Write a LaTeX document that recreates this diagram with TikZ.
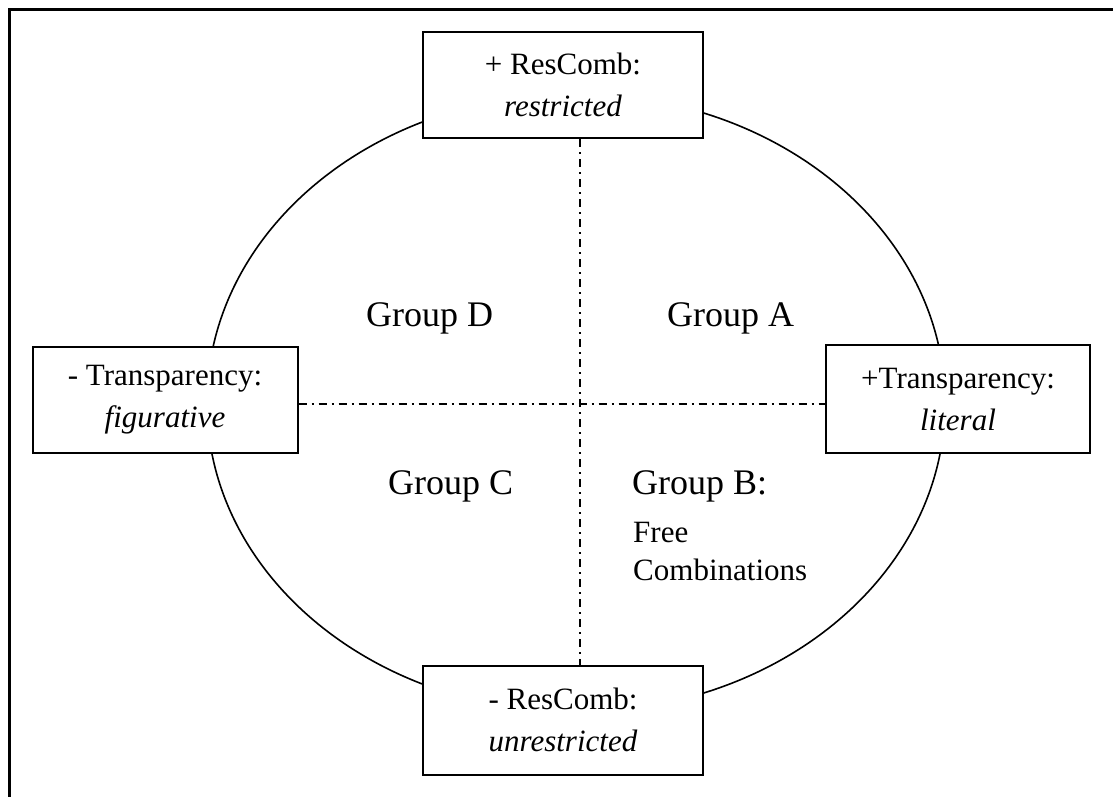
\documentclass[tikz,border=0pt]{standalone}
\usepackage{fontspec}
\setmainfont{Liberation Serif}
\usetikzlibrary{calc}
\tikzset{
  pole/.style= {draw, fill=white, line width=2pt, align=center, inner sep=0pt,
                font=\fontsize{31}{42}\selectfont},
  group/.style= {anchor=base west, inner sep=0pt, font=\fontsize{36}{40}\selectfont},
  axis/.style= {line width=2pt, dash pattern=on 8pt off 5pt on 2pt off 5pt},
}

\begin{document}
\begin{tikzpicture}[x=1pt, y=-1pt]
  \useasboundingbox (0,0) rectangle (1113,796) ;
  \draw [line width=3pt] (1120,9) -- (9,9) -- (9,800) ;

  \draw [line width=1.6pt] (576,403) ellipse [x radius=369, y radius=309] ;
  \coordinate (c) at (580,404) ;

  \node [pole, minimum width=280pt, minimum height=106pt] (top) at (563,85)
    {+ ResComb:\\\textit{restricted}} ;
  \node [pole, minimum width=280pt, minimum height=109pt] (bot) at (563,720)
    {- ResComb:\\\textit{unrestricted}} ;
  \node [pole, minimum width=265pt, minimum height=106pt] (neg) at (165,400)
    {- Transparency:\\\textit{figurative}} ;
  \node [pole, minimum width=264pt, minimum height=108pt] (pos) at (958,399)
    {+Transparency:\\\textit{literal}} ;

  \draw [axis] (top.south -| c) -- (bot.north -| c) ;
  \draw [axis] (neg.east |- c) -- (pos.west |- c) ;

  \node [group] (gd) at (366,326) {Group D} ;
  \node [group] (ga) at (667,326) {Group A} ;
  \node [group] (gc) at (388,494) {Group C} ;
  \node [group] (gb) at (632,494) {Group B:} ;
  \node [group, font=\fontsize{31}{36}\selectfont] (free) at (633,542) {Free} ;
  \node [group, font=\fontsize{31}{36}\selectfont] (comb) at (633,580) {Combinations} ;
\end{tikzpicture}
\end{document}
